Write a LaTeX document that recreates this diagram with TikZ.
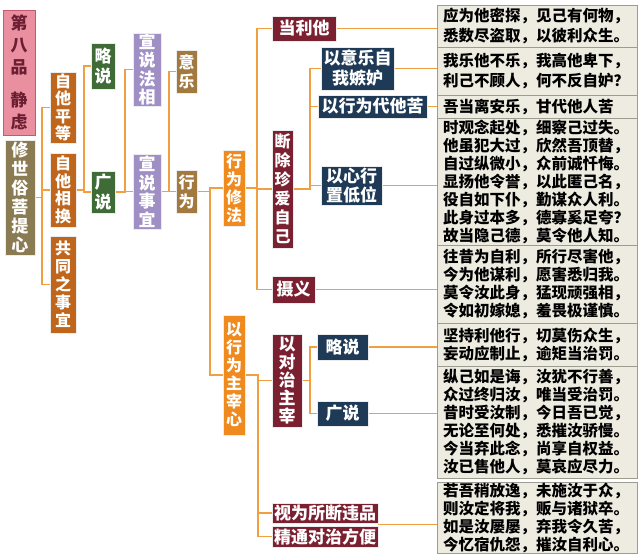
\documentclass[tikz,border=0pt]{standalone}
\usepackage{fontspec}
\setmainfont{Noto Sans CJK SC}
\usetikzlibrary{calc,backgrounds,shadows}
\definecolor{pinkFill}{HTML}{E98FA0}
\definecolor{pinkEdge}{HTML}{C25A70}
\definecolor{pinkText}{HTML}{6B1D32}
\definecolor{oliveFill}{HTML}{8A7B52}
\definecolor{rustFill}{HTML}{BF661C}
\definecolor{greenFill}{HTML}{3E6B36}
\definecolor{lilacFill}{HTML}{A08FC4}
\definecolor{tanFill}{HTML}{A27A3F}
\definecolor{orangeFill}{HTML}{EF8A1E}
\definecolor{maroonFill}{HTML}{7B2030}
\definecolor{navyFill}{HTML}{1E3A57}
\definecolor{linkOrange}{HTML}{F0A040}
\definecolor{verseFill}{HTML}{EEEBE0}
\definecolor{verseEdge}{HTML}{9C9C90}

\begin{document}
\begin{tikzpicture}[
  % pixel grid of the reference: x right, y down
  x=1pt, y=-1pt,
  dims/.style 2 args={minimum width=#1pt, minimum height=#2pt},
  tag/.style={
    rectangle, inner sep=0pt, align=center,
    text=white, draw=white!85!gray, line width=0.5pt,
    font=\fontsize{17}{18.5}\selectfont\bfseries,
    drop shadow={shadow xshift=1.2pt, shadow yshift=-1.2pt, opacity=0.3}
  },
  pinkbox/.style={tag, fill=pinkFill, draw=pinkEdge, text=pinkText},
  olivebox/.style={tag, fill=oliveFill},
  rustbox/.style={tag, fill=rustFill},
  greenbox/.style={tag, fill=greenFill},
  lilacbox/.style={tag, fill=lilacFill},
  tanbox/.style={tag, fill=tanFill},
  orangebox/.style={tag, fill=orangeFill},
  maroonbox/.style={tag, fill=maroonFill},
  navybox/.style={tag, fill=navyFill},
  versebox/.style={
    rectangle, fill=verseFill, draw=verseEdge, line width=0.8pt,
    minimum width=200pt, text width=188pt, inner xsep=6pt, inner ysep=0pt,
    align=left, text=black,
    font=\fontsize{15.5}{18}\selectfont\bfseries
  },
  link/.style={draw=linkOrange, line width=1.8pt},
]
\useasboundingbox (0,0) rectangle (640,555);

% --- Root column ---
\node[pinkbox, dims={32}{125}, font=\fontsize{17}{22}\selectfont\bfseries]
  (chapter) at (19,72.5) {第\\八\\品\\[11pt]静\\虑};
\node[olivebox, dims={30}{115}, font=\fontsize{17}{19}\selectfont\bfseries]
  (xiushi) at (20,197.5) {修\\世\\俗\\菩\\提\\心};

% --- Second and third columns ---
\node[rustbox, dims={26}{71}, font=\fontsize{16}{17.5}\selectfont\bfseries]
  (zita) at (63,107.5) {自\\他\\平\\等};
\node[rustbox, dims={26}{74}, font=\fontsize{16}{17.5}\selectfont\bfseries]
  (zihuan) at (63,190) {自\\他\\相\\换};
\node[rustbox, dims={26}{97}, font=\fontsize{16}{18}\selectfont\bfseries]
  (gongtong) at (63,284.5) {共\\同\\之\\事\\宜};
\node[greenbox, dims={24}{46}, font=\fontsize{17}{20}\selectfont\bfseries]
  (lue1) at (103,66) {略\\说};
\node[greenbox, dims={24}{42}, font=\fontsize{17}{20}\selectfont\bfseries]
  (guang1) at (103,192) {广\\说};

% --- Fourth and fifth columns ---
\node[lilacbox, dims={28}{73}] (faxiang) at (147,69.5) {宣\\说\\法\\相};
\node[lilacbox, dims={28}{75}] (shiyi) at (147,191.5) {宣\\说\\事\\宜};
\node[tanbox, dims={21}{43}, font=\fontsize{16}{19}\selectfont\bfseries]
  (yile) at (186.5,71.5) {意\\乐};
\node[tanbox, dims={21}{43}, font=\fontsize{16}{19}\selectfont\bfseries]
  (xingwei) at (186.5,191.5) {行\\为};

% --- Practice column ---
\node[orangebox, dims={22}{76}, font=\fontsize{16}{18}\selectfont\bfseries]
  (xiufa) at (234,188) {行\\为\\修\\法};
\node[orangebox, dims={22}{120}, font=\fontsize{16}{18}\selectfont\bfseries]
  (zhuzai) at (234,375) {以\\行\\为\\主\\宰\\心};

% --- Maroon column ---
\node[maroonbox, dims={64}{25}] (dangli) at (304,28.5) {当利他};
\node[maroonbox, dims={21}{118}, font=\fontsize{16}{19}\selectfont\bfseries]
  (duanchu) at (282.5,189) {断\\除\\珍\\爱\\自\\己};
\node[maroonbox, dims={43}{27}] (sheyi) at (293.5,289.5) {摄义};
\node[maroonbox, dims={30}{93}, font=\fontsize{17}{18}\selectfont\bfseries]
  (duizhi) at (287,380.5) {以\\对\\治\\主\\宰};
\node[maroonbox, dims={106}{20}] (shiwei) at (325,513) {视为所断违品};
\node[maroonbox, dims={106}{21}] (jingtong) at (325,536.5) {精通对治方便};

% --- Navy column ---
\node[navybox, dims={73}{43}, font=\fontsize{17}{20}\selectfont\bfseries]
  (yiyile) at (357.5,68.5) {以意乐自\\我嫉妒};
\node[navybox, dims={109}{23}] (daita) at (372.5,106.5) {以行为代他苦};
\node[navybox, dims={61}{39}, font=\fontsize{17}{19}\selectfont\bfseries]
  (xinxing) at (351.5,185.5) {以心行\\置低位};
\node[navybox, dims={51}{26}] (lue2) at (342.5,347) {略说};
\node[navybox, dims={51}{25}] (guang2) at (342.5,413.5) {广说};

% --- Verse panels ---
\node[versebox, minimum height=42pt, font=\fontsize{15.5}{20}\selectfont\bfseries]
  (p1) at (537,26) {应为他密探，见己有何物，\\悉数尽盗取，以彼利众生。};
\node[versebox, minimum height=48pt, font=\fontsize{15.5}{20}\selectfont\bfseries]
  (p2) at (537,71) {我乐他不乐，我高他卑下，\\利己不顾人，何不反自妒？};
\node[versebox, minimum height=23pt] (p3) at (537,106.5) {吾当离安乐，甘代他人苦};
\node[versebox, minimum height=127pt] (p4) at (537,181.5)
  {时观念起处，细察己过失。\\他虽犯大过，欣然吾顶替，\\自过纵微小，众前诚忏悔。\\显扬他令誉，以此匿己名，\\役自如下仆，勤谋众人利。\\此身过本多，德寡奚足夸？\\故当隐己德，莫令他人知。};
\node[versebox, minimum height=78pt] (p5) at (537,284)
  {往昔为自利，所行尽害他，\\今为他谋利，愿害悉归我。\\莫令汝此身，猛现顽强相，\\令如初嫁媳，羞畏极谨慎。};
\node[versebox, minimum height=43pt] (p6) at (537,344.5)
  {坚持利他行，切莫伤众生，\\妄动应制止，逾矩当治罚。};
\node[versebox, minimum height=112pt] (p7) at (537,422)
  {纵己如是诲，汝犹不行善，\\众过终归汝，唯当受治罚。\\昔时受汝制，今日吾已觉，\\无论至何处，悉摧汝骄慢。\\今当弃此念，尚享自权益。\\汝已售他人，莫哀应尽力。};
\node[versebox, minimum height=71pt] (p8) at (537,517.5)
  {若吾稍放逸，未施汝于众，\\则汝定将我，贩与诸狱卒。\\如是汝屡屡，弃我令久苦，\\今忆宿仇怨，摧汝自利心。};

\coordinate (pair) at ($(shiwei.south east)!.5!(jingtong.north east)$);

\begin{scope}[on background layer]
  \fill[white] (0,0) rectangle (640,555);
  % --- Tree connectors: parent / bus offset / children ---
  \foreach \hub/\dx/\kids in {
      xiushi/7/{zita,zihuan,gongtong},
      zihuan/8/{lue1,guang1},
      guang1/10/{faxiang,shiyi},
      shiyi/8/{yile,xingwei},
      xingwei/13/{xiufa,zhuzai},
      xiufa/12/{dangli,duanchu,sheyi},
      duanchu/17/{yiyile,daita,xinxing},
      zhuzai/13/{duizhi,shiwei,jingtong},
      duizhi/8/{lue2,guang2}} {
    \foreach \kid in \kids {
      \draw[link] (\hub.east) -- ++(\dx,0) |- (\kid.west);
    }
  }
  % --- Leaves to verse panels ---
  \foreach \leaf/\pan in {dangli/p1, yiyile/p2, daita/p3, xinxing/p4,
                          sheyi/p5, lue2/p6, guang2/p7} {
    \draw[link] (\leaf.east) -- (\leaf.east -| \pan.west);
  }
  \draw[link] (pair) -- (pair -| p8.west);
\end{scope}

\end{tikzpicture}
\end{document}
